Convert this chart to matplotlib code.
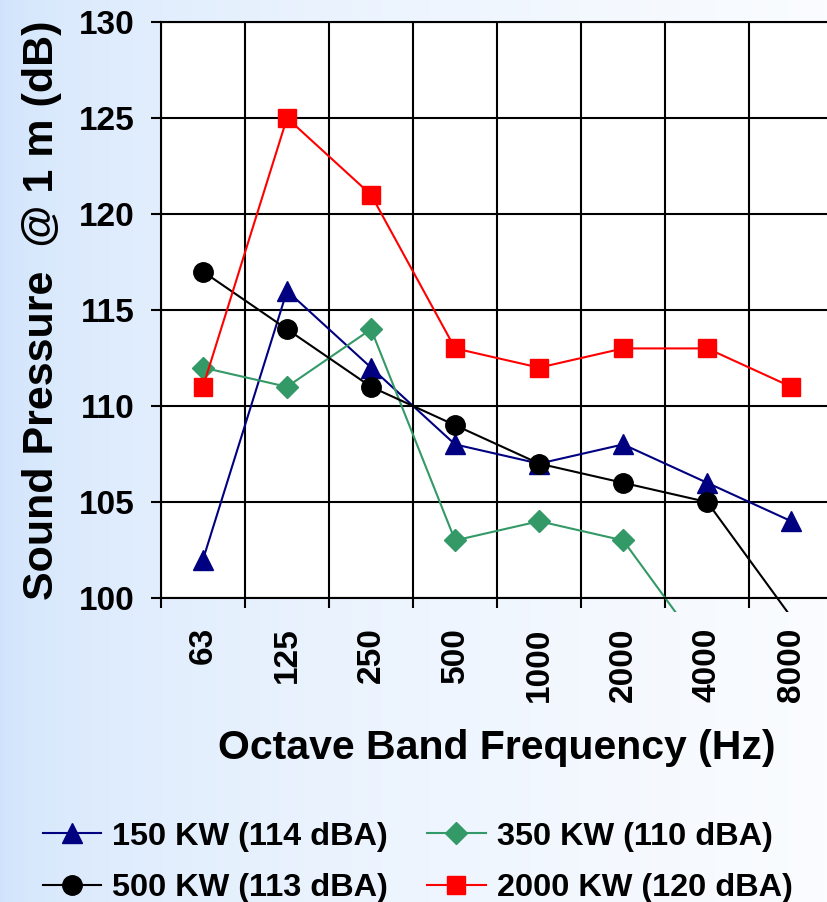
import numpy as np
import matplotlib
matplotlib.use("Agg")
import matplotlib.pyplot as plt
from matplotlib.patches import Rectangle
from matplotlib.lines import Line2D

# data
freqs = ['63', '125', '250', '500', '1000', '2000', '4000', '8000']
kw150 = [102, 116, 112, 108, 107, 108, 106, 104]
kw350 = [112, 111, 114, 103, 104, 103, 97, 96]
kw500 = [117, 114, 111, 109, 107, 106, 105, 99]
kw2000 = [111, 125, 121, 113, 112, 113, 113, 111]
series_labels = ['150 KW (114 dBA)', '350 KW (110 dBA)',
                 '500 KW (113 dBA)', '2000 KW (120 dBA)']

plt.rcParams['font.family'] = ['Liberation Sans', 'DejaVu Sans']
plt.rcParams['font.weight'] = 'bold'

fig = plt.figure(figsize=(8.28, 9.02), dpi=100)

# blue to white background gradient (fades quickly toward white)
bg = fig.add_axes([0, 0, 1, 1], zorder=-10)
left = np.array([207, 227, 252]) / 255
right = np.array([250, 252, 255]) / 255
t = np.sqrt(np.linspace(0, 1, 256))[None, :, None]
grad = left * (1 - t) + right * t
bg.imshow(grad, aspect='auto', extent=[0, 1, 0, 1])
bg.axis('off')

ax = fig.add_axes([0.1944, 0.337, 0.812, 0.6386])
ax.set_facecolor('white')
x = np.arange(len(freqs))

# lines run a little past the bottom axis, markers stay inside
clip = Rectangle((0, -0.025), 1, 1.05, transform=ax.transAxes, fill=False)
styles = [
    (kw150, '#000080', '^', 15),
    (kw350, '#339966', 'D', 11),
    (kw500, 'black', 'o', 14),
    (kw2000, '#ff0000', 's', 13),
]
handles = []
for (vals, col, mk, ms), lab in zip(styles, series_labels):
    ln, = ax.plot(x, vals, color=col, lw=1.5)
    ln.set_clip_path(clip)
    ax.plot(x, vals, ls='none', marker=mk, ms=ms, color=col)
    handles.append(Line2D([], [], color=col, lw=1.5, marker=mk, ms=ms, label=lab))

ax.set_xlim(-0.5, len(freqs) - 0.5)
ax.set_ylim(100, 130)
ax.set_yticks(range(100, 131, 5))
ax.set_xticks(x)
ax.set_xticklabels(freqs, rotation=90, fontsize=24, fontweight='bold')
ax.set_xticks(np.arange(-0.5, len(freqs), 1), minor=True)
ax.tick_params(axis='x', which='major', length=0, pad=21)
ax.tick_params(axis='x', which='minor', length=7, width=1.5, direction='out')
ax.tick_params(axis='y', length=7, width=1.5, labelsize=24, pad=12)
for lab in ax.get_yticklabels():
    lab.set_fontweight('bold')
ax.grid(True, which='minor', axis='x', color='black', lw=1.5)
ax.grid(True, which='major', axis='y', color='black', lw=1.5)
for s in ax.spines.values():
    s.set_linewidth(1.5)

ax.set_ylabel('Sound Pressure  @ 1 m (dB)', fontsize=31, fontweight='bold', labelpad=12)
ax.set_xlabel('Octave Band Frequency (Hz)', fontsize=29.5, fontweight='bold', labelpad=20)

# row-major order like the original: 150 / 350 on top, 500 / 2000 below
order = [0, 2, 1, 3]
fig.legend(handles=[handles[i] for i in order], loc='lower left',
           bbox_to_anchor=(0.032, -0.019), ncol=2, frameon=False, borderpad=0,
           prop={'size': 23.4, 'weight': 'bold'}, handlelength=1.8,
           columnspacing=1.2, handletextpad=0.34, labelspacing=0.65)

fig.savefig('out.png', dpi=100)
